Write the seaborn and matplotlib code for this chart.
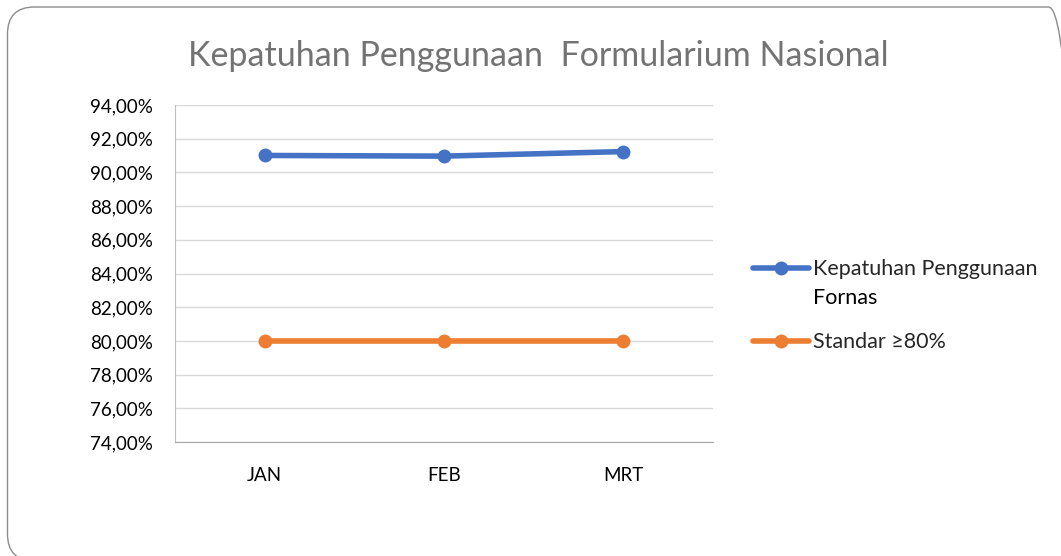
import pandas as pd
import seaborn as sns
import matplotlib.pyplot as plt
from matplotlib.patches import FancyBboxPatch
from matplotlib.transforms import IdentityTransform
from matplotlib.ticker import FuncFormatter

# ---- data ----
months = ['JAN', 'FEB', 'MRT']
kepatuhan = [91.01, 90.97, 91.24]
standar = [80.0, 80.0, 80.0]
series_names = ['Kepatuhan Penggunaan', 'Standar ≥80%']
title = 'Kepatuhan Penggunaan  Formularium Nasional'

df = pd.DataFrame({
    'bulan': months * 2,
    'nilai': kepatuhan + standar,
    'seri': [series_names[0]] * 3 + [series_names[1]] * 3,
})

sns.set_style('white')
plt.rcParams['font.family'] = ['Lato', 'DejaVu Sans']

fig = plt.figure(figsize=(10.61, 5.56), dpi=100)
ax = fig.add_axes([0.165, 0.205, 0.507, 0.606])

# rounded chart-area frame (cut off on right and bottom like the original)
frame = FancyBboxPatch((7.5, -5), 1068, 554, boxstyle='round,pad=0,rounding_size=27',
                       transform=IdentityTransform(), facecolor='none',
                       edgecolor='#8c8c8c', linewidth=1.0)
fig.patches.append(frame)

sns.lineplot(data=df, x='bulan', y='nilai', hue='seri', palette=['#4472c4', '#ed7d31'],
             marker='o', markersize=10, markeredgewidth=0, linewidth=4, ax=ax, sort=False)

ax.set_ylim(74, 94)
ax.set_yticks(range(74, 95, 2))
ax.yaxis.set_major_formatter(FuncFormatter(lambda v, p: f'{v:.2f}%'.replace('.', ',')))
ax.set_xlim(-0.5, 2.5)
ax.grid(axis='y', color='#d9d9d9', linewidth=1)
ax.set_axisbelow(True)
ax.spines['top'].set_visible(False)
ax.spines['right'].set_visible(False)
ax.spines['left'].set_color('#bfbfbf')
ax.spines['bottom'].set_color('#a6a6a6')
ax.tick_params(axis='both', length=0, labelsize=13.5, colors='#000000')
ax.tick_params(axis='y', pad=16)
ax.tick_params(axis='x', pad=18)
ax.set_xlabel('')
ax.set_ylabel('')

fig.text(0.5075, 0.9, title, ha='center', va='center', fontsize=24.5, color='#737373')

leg = ax.legend(loc='upper left', bbox_to_anchor=(0.7097, 0.5333), bbox_transform=fig.transFigure,
                frameon=False, fontsize=15.5, handlelength=2.6, handletextpad=0.2,
                labelspacing=2.45, borderaxespad=0, borderpad=0)

# second line of the first legend label, kept under the first line
fig.canvas.draw()
bb = leg.get_texts()[0].get_window_extent()
fig.text(bb.x0, (bb.y0 + bb.y1) / 2 - 29, 'Fornas', transform=IdentityTransform(),
         ha='left', va='center', fontsize=15.5, color='#000000')

fig.savefig('out.png', dpi=100)
